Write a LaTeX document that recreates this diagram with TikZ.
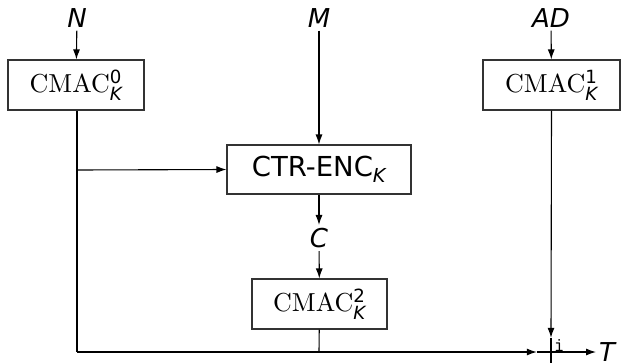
\documentclass[tikz,border=0pt]{standalone}
\usepackage{amsmath}
\usepackage{fontspec}
\setsansfont{DejaVu Sans}
\newfontfamily\lmten{lmroman10-regular}[Extension=.otf]
\usetikzlibrary{arrows.meta}
\tikzset{
  lbl/.style={font=\fontsize{26}{30}\selectfont\sffamily\itshape, inner sep=3pt},
  blk/.style={draw=black!80, line width=1.1pt, font=\fontsize{26}{30}\selectfont, inner sep=2pt, minimum height=50pt},
  con/.style={line width=1.1pt},
  arr/.style={con, -{Latex[length=10pt,width=7pt]}},
}
\newcommand{\cmac}[1]{{\lmten CMAC}$^{\textsf{#1}}_{\textsf{\itshape K}}$}
\begin{document}
\begin{tikzpicture}[x=1pt,y=-1pt]
\useasboundingbox (0,0) rectangle (621,362);
\node[lbl] (N) at (77,18) {N};
\node[lbl] (M) at (319,18) {M};
\node[lbl] (AD) at (551,18) {AD};
\node[blk, minimum width=136pt] (c0) at (76,85) {\cmac{0}};
\node[blk, minimum width=137pt] (c1) at (551.5,85) {\cmac{1}};
\node[blk, minimum width=184pt, minimum height=49pt, font=\fontsize{27.5}{30}\selectfont] (ctr) at (319,169.5) {\sffamily CTR-ENC$_{\textsf{\itshape K}}$};
\node[lbl] (C) at (319,238) {C};
\node[blk, minimum width=135pt] (c2) at (319.5,304) {\cmac{2}};
\node[minimum size=28pt, inner sep=0pt] (x) at (551,352) {};
\node[lbl, anchor=west, inner sep=0pt] (T) at (599,352) {T};
\node[font=\fontsize{20}{22}\selectfont\ttfamily, anchor=base west, inner sep=0pt] (i) at (554,351) {i};
\coordinate (j1) at (77,170);
\coordinate (j2) at (77,352);
\coordinate (j3) at (319,352);
\draw[arr] (N) -- (c0);
\draw[arr] (M) -- (ctr);
\draw[arr] (AD) -- (c1);
\draw[arr] (ctr) -- (C);
\draw[arr] (C) -- (c2);
\draw[con] (c0.south -| j1) -- (j2);
\draw[arr] (j1) -- (ctr.west);
\draw[con] (c2) -- (j3);
\draw[arr] (j2) -- (x.west);
\draw[arr] (c1.south) -- (x.north);
\draw[con] (x.north) -- (x.south);
\draw[con] (x.west) -- (x.east);
\draw[arr] (x.east) -- ([xshift=-3pt]T.west);
\end{tikzpicture}
\end{document}
